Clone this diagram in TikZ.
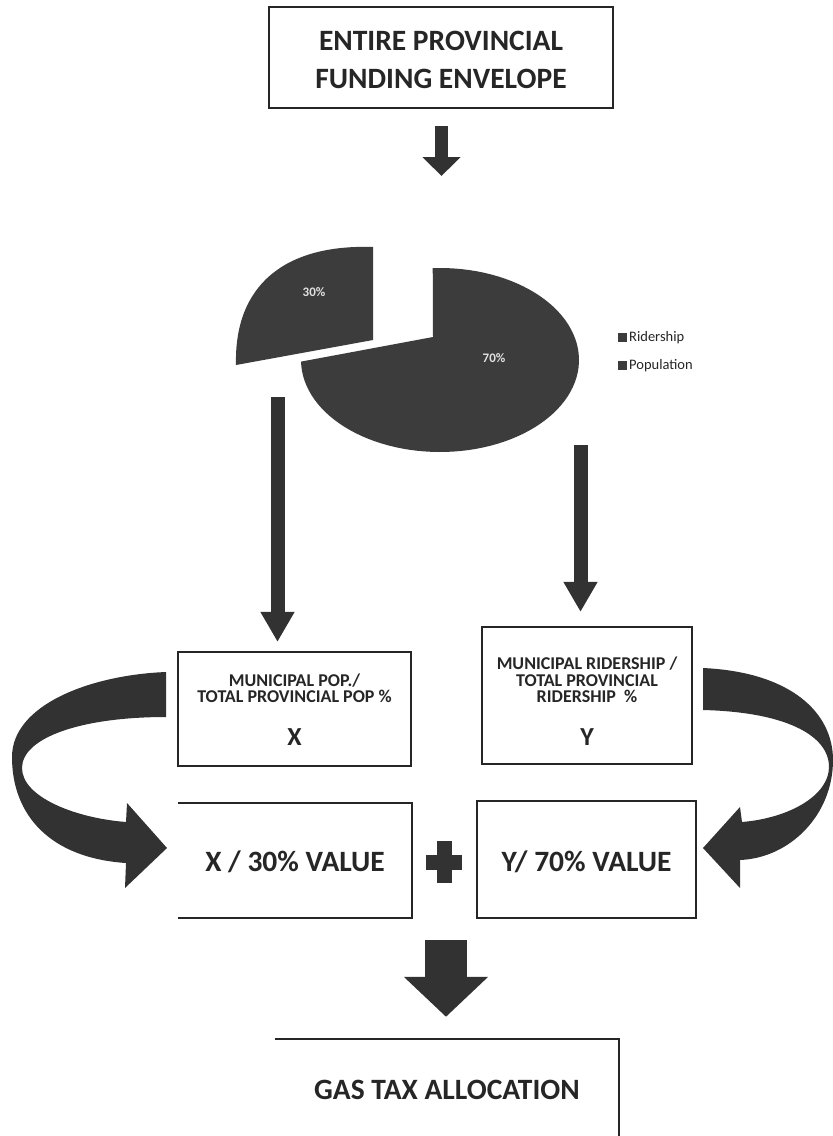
\documentclass[tikz,border=0pt]{standalone}
\usepackage{fontspec}
\setmainfont{Carlito}
\usetikzlibrary{arrows.meta,calc}
\definecolor{ink}{RGB}{38,38,38}
\definecolor{arrowfill}{RGB}{50,50,50}
\definecolor{piefill}{RGB}{60,60,60}
\definecolor{pietext}{RGB}{225,225,225}
\begin{document}
\begin{tikzpicture}[x=1pt,y=-1pt,
  boxline/.style={draw=ink,line width=2.2pt},
  plainbox/.style={rectangle,inner sep=0pt},
  bigtxt/.style={font=\bfseries\fontsize{29.5}{38}\selectfont,text=ink,align=center,inner sep=0pt},
  midtxt/.style={font=\bfseries\fontsize{18}{16.5}\selectfont,text=ink,align=center,inner sep=0pt},
  lettertxt/.style={font=\bfseries\fontsize{26}{26}\selectfont,text=ink,inner sep=0pt},
  pielabel/.style={font=\bfseries\fontsize{13}{13}\selectfont,text=pietext,inner sep=0pt},
  legendtxt/.style={font=\fontsize{14.5}{15}\selectfont,text=ink,inner sep=0pt,anchor=west},
  arrowS/.style={draw=arrowfill,line width=13pt,-{Triangle[width=37pt,length=19pt]}},
  arrowM/.style={draw=arrowfill,line width=14pt,-{Triangle[width=32pt,length=30pt]}},
  arrowL/.style={draw=arrowfill,line width=42pt,-{Triangle[width=82pt,length=40pt]}},
]
\fill[white] (0,0) rectangle (833,1136);
\useasboundingbox (0,0) rectangle (833,1136);

% top box
\node[plainbox,boxline,minimum width=344pt,minimum height=101pt] (env) at (441,57.5) {};
\node[bigtxt] (envtxt) at (441,60) {ENTIRE PROVINCIAL\\FUNDING ENVELOPE};

% pie chart
\coordinate (pietop) at (441.5,176);
\fill[piefill] (433,337) -- plot[domain=-93:179,samples=90,variable=\t] ({440+139*cos(\t)},{360+92*sin(\t)}) -- cycle;
\fill[piefill] (373,340) -- (373,247) .. controls (285,244) and (234,285) .. (236,365) -- cycle;
\node[pielabel] (p30) at (314,292) {30\%};
\node[pielabel] (p70) at (494,358) {70\%};
\fill[piefill] (618,333) rectangle (627,342);
\node[legendtxt] (legR) at (629,338) {Ridership};
\fill[piefill] (618,361) rectangle (627,370);
\node[legendtxt] (legP) at (629,366) {Population};

\draw[arrowS] ($(env.south)+(0.5,17)$) -- (pietop);

% middle boxes
\node[plainbox,boxline,minimum width=233pt,minimum height=114pt] (boxX) at (294.5,709) {};
\node[midtxt] (boxXtxt) at (294.5,688) {MUNICIPAL POP./\\TOTAL PROVINCIAL POP \%};
\node[lettertxt] (Xl) at (294.5,737) {X};

\node[plainbox,boxline,minimum width=210pt,minimum height=137pt] (boxY) at (587,695.5) {};
\node[midtxt] (boxYtxt) at (587,680) {MUNICIPAL RIDERSHIP /\\TOTAL PROVINCIAL\\RIDERSHIP~~\%};
\node[lettertxt] (Yl) at (587,737) {Y};

\coordinate (pieL) at (277.5,397);
\coordinate (pieR) at (580.5,445);
\draw[arrowM] (pieL) -- ($(pieL |- boxX.north)+(0,-9)$);
\draw[arrowM] (pieR) -- ($(pieR |- boxY.north)+(0,-14)$);

% value boxes
\node[plainbox,minimum width=234pt,minimum height=115pt] (valX) at (295,860.5) {};
\draw[boxline] (valX.north west) -- (valX.north east) -- (valX.south east) -- (valX.south west);
\node[bigtxt] (valXtxt) at (295,862) {X / 30\% VALUE};

\node[plainbox,boxline,minimum width=219pt,minimum height=117pt] (valY) at (586.5,859.5) {};
\node[bigtxt] (valYtxt) at (586.5,862) {Y/ 70\% VALUE};

% plus sign
\fill[arrowfill] (436.5,841) rectangle (451.5,883);
\fill[arrowfill] (426,854.5) rectangle (462,869.5);

% curved arrows
\fill[arrowfill] (166,672) .. controls (90,675) and (12,705) .. (12,757)
  .. controls (12,815) and (50,858) .. (126,863)
  -- (125,888) -- (167,848) -- (127,803) -- (126,822)
  .. controls (75,818) and (22,797) .. (22,768)
  .. controls (22,738) and (80,717) .. (166,717) -- cycle;
\fill[arrowfill] (703,668) .. controls (790,672) and (833,712) .. (833,760)
  .. controls (833,815) and (790,858) .. (740,860)
  -- (740,888) -- (703,848) -- (740,807) -- (742,822)
  .. controls (790,818) and (829,795) .. (829,767)
  .. controls (829,735) and (785,712) .. (703,710) -- cycle;

% bottom
\node[plainbox,minimum width=344pt,minimum height=102pt] (gas) at (447,1090) {};
\draw[boxline] (gas.north west) -- (gas.north east) -- (gas.south east);
\node[bigtxt] (gastxt) at (447,1090) {GAS TAX ALLOCATION};

\coordinate (sumpt) at (446,940);
\draw[arrowL] (sumpt) -- ($(sumpt |- gas.north)+(0,-22)$);
\end{tikzpicture}
\end{document}
